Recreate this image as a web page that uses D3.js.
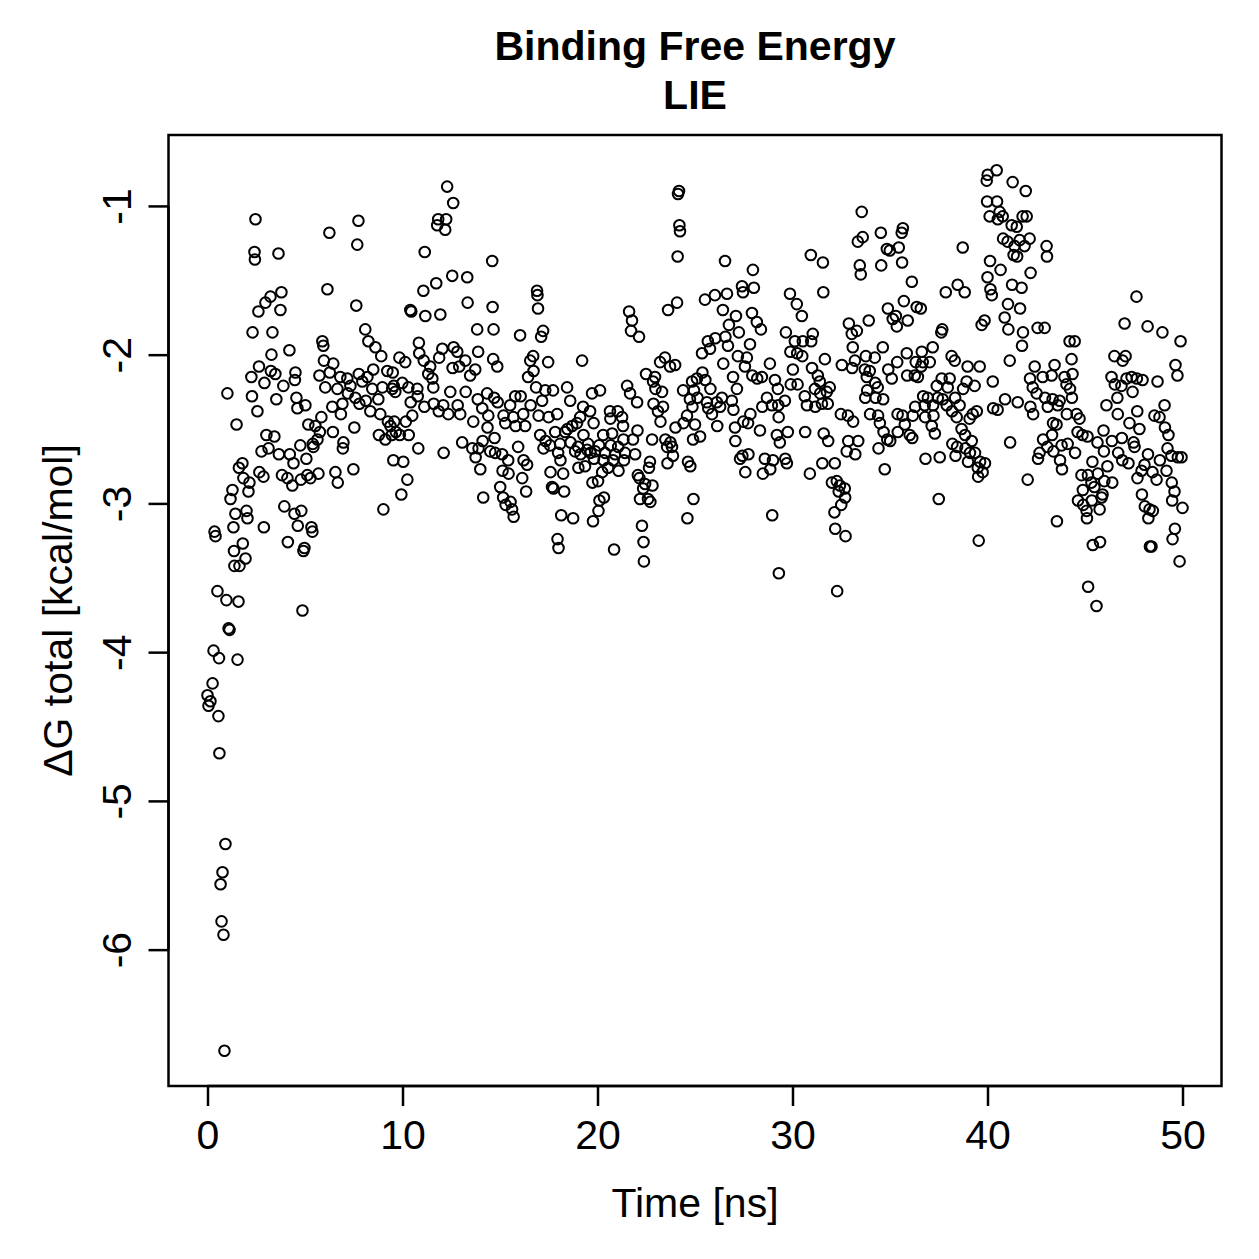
<!DOCTYPE html>
<html>
<head>
<meta charset="utf-8">
<script src="https://cdn.jsdelivr.net/npm/d3@7"></script>
<style>
  body { margin: 0; background: #fff; }
  text { font-family: "Liberation Sans", Arial, Helvetica, sans-serif; fill: #000; }
</style>
</head>
<body>
<div id="chart"></div>
<script>
"use strict";

const titleLines = ['Binding Free Energy', 'LIE'];
const xLabel = 'Time [ns]';
const yLabel = 'ΔG total [kcal/mol]';
const xTicks = [0, 10, 20, 30, 40, 50];
const yTicks = [-6, -5, -4, -3, -2, -1];

// [time (ns), dG total (kcal/mol)]
const dgSeries = [
  [0.00,-4.29],[0.05,-4.36],[0.15,-4.33],[0.26,-4.21],[0.31,-3.99],[0.36,-3.19],[0.41,-3.22],[0.51,-3.59],[0.56,-4.43],[0.59,-4.04],
  [0.61,-4.68],[0.67,-5.56],[0.72,-5.81],[0.77,-5.48],[0.82,-5.90],[0.87,-6.68],[0.92,-5.29],[0.97,-3.65],[1.02,-2.26],[1.08,-3.84],
  [1.13,-3.85],[1.18,-2.97],[1.28,-2.91],[1.33,-3.16],[1.36,-3.32],[1.38,-3.42],[1.43,-3.07],[1.49,-2.47],[1.54,-4.05],[1.59,-3.66],
  [1.61,-2.76],[1.64,-3.42],[1.79,-2.73],[1.81,-3.27],[1.84,-2.83],[1.95,-3.37],[2.00,-3.05],[2.05,-3.10],[2.10,-2.92],[2.15,-2.86],
  [2.25,-2.15],[2.28,-2.28],[2.31,-1.85],[2.41,-1.31],[2.43,-1.36],[2.46,-1.09],[2.56,-2.38],[2.61,-1.71],[2.64,-2.08],[2.66,-2.79],
  [2.77,-2.65],[2.87,-2.82],[2.89,-3.16],[2.92,-2.19],[2.97,-1.65],[3.02,-2.54],[3.13,-2.63],[3.23,-1.61],[3.25,-2.11],[3.28,-2.00],
  [3.33,-1.85],[3.43,-2.55],[3.48,-2.13],[3.53,-2.30],[3.64,-1.32],[3.66,-2.67],[3.74,-1.70],[3.79,-1.58],[3.82,-2.81],[3.89,-2.21],
  [3.94,-3.02],[4.10,-2.83],[4.12,-3.26],[4.20,-1.97],[4.22,-2.67],[4.35,-2.88],[4.41,-2.73],[4.46,-3.07],[4.48,-2.17],[4.51,-2.12],
  [4.56,-2.29],[4.61,-2.36],[4.63,-3.15],[4.76,-2.61],[4.79,-2.84],[4.81,-3.05],[4.87,-3.72],[4.92,-3.32],[4.97,-3.30],[5.02,-2.34],
  [5.07,-2.70],[5.12,-2.81],[5.17,-2.47],[5.28,-2.83],[5.33,-3.16],[5.38,-3.19],[5.40,-2.60],[5.43,-2.62],[5.53,-2.48],[5.64,-2.57],
  [5.69,-2.80],[5.74,-2.14],[5.76,-2.52],[5.84,-2.42],[5.89,-1.91],[5.94,-1.94],[5.97,-2.04],[6.04,-2.22],[6.15,-1.56],[6.25,-1.18],
  [6.27,-2.12],[6.40,-2.35],[6.43,-2.52],[6.45,-2.06],[6.56,-2.79],[6.66,-2.23],[6.68,-2.86],[6.81,-2.15],[6.84,-2.40],[6.92,-2.33],
  [6.94,-2.63],[6.97,-2.59],[7.17,-2.16],[7.20,-2.26],[7.33,-2.21],[7.48,-2.77],[7.53,-2.49],[7.58,-2.29],[7.63,-1.67],[7.68,-1.26],
  [7.74,-1.10],[7.76,-2.13],[7.79,-2.33],[7.94,-2.18],[8.09,-1.83],[8.12,-2.31],[8.20,-2.15],[8.25,-1.91],[8.35,-2.38],[8.45,-2.23],
  [8.50,-2.10],[8.61,-1.95],[8.76,-2.30],[8.79,-2.54],[8.86,-2.40],[8.91,-2.01],[8.97,-2.22],[9.02,-3.04],[9.12,-2.57],[9.22,-2.11],
  [9.25,-2.45],[9.38,-2.48],[9.45,-2.54],[9.48,-2.23],[9.50,-2.12],[9.53,-2.71],[9.55,-2.21],[9.58,-2.45],[9.63,-2.25],[9.66,-2.52],
  [9.84,-2.02],[9.86,-2.54],[9.94,-2.94],[9.99,-2.19],[10.04,-2.72],[10.14,-2.05],[10.17,-2.45],[10.25,-2.84],[10.30,-2.22],[10.32,-2.54],
  [10.40,-1.70],[10.42,-2.32],[10.45,-1.71],[10.50,-2.41],[10.76,-2.23],[10.78,-2.28],[10.81,-2.63],[10.84,-1.92],[10.86,-1.99],[11.07,-1.57],
  [11.09,-2.04],[11.12,-2.35],[11.14,-1.31],[11.17,-1.74],[11.32,-2.13],[11.42,-2.08],[11.53,-2.16],[11.58,-2.22],[11.60,-2.33],[11.73,-1.52],
  [11.78,-1.13],[11.83,-1.09],[11.86,-2.38],[11.88,-2.02],[11.94,-1.73],[12.04,-1.96],[12.09,-2.34],[12.11,-2.66],[12.19,-1.16],[12.24,-1.09],
  [12.29,-0.87],[12.35,-2.40],[12.45,-2.25],[12.55,-1.47],[12.57,-2.09],[12.60,-0.98],[12.62,-1.95],[12.81,-1.98],[12.83,-2.34],[12.91,-2.08],
  [12.96,-2.40],[13.06,-2.59],[13.22,-2.04],[13.24,-2.25],[13.32,-1.48],[13.34,-1.65],[13.47,-2.14],[13.58,-2.63],[13.63,-2.45],[13.73,-2.10],
  [13.75,-2.69],[13.83,-1.83],[13.86,-2.30],[13.88,-1.98],[13.90,-2.63],[13.99,-2.77],[14.09,-2.36],[14.11,-2.58],[14.14,-2.96],[14.34,-2.26],
  [14.36,-2.49],[14.40,-2.41],[14.50,-2.65],[14.60,-1.37],[14.62,-1.68],[14.65,-2.03],[14.67,-1.83],[14.70,-2.29],[14.72,-2.56],[14.75,-2.66],
  [14.86,-2.08],[14.88,-2.32],[15.01,-2.89],[15.11,-2.67],[15.13,-2.78],[15.16,-2.96],[15.18,-2.41],[15.27,-2.46],[15.29,-3.01],[15.42,-2.71],
  [15.44,-2.80],[15.52,-2.34],[15.54,-2.99],[15.62,-3.04],[15.68,-2.42],[15.70,-3.09],[15.78,-2.28],[15.80,-2.48],[15.93,-2.62],[16.03,-1.87],
  [16.06,-2.28],[16.14,-2.83],[16.19,-2.40],[16.21,-2.71],[16.29,-2.48],[16.34,-2.92],[16.39,-2.74],[16.44,-2.15],[16.55,-2.04],[16.57,-2.34],
  [16.70,-2.01],[16.72,-2.11],[16.85,-2.22],[16.90,-1.57],[16.92,-1.60],[16.95,-1.69],[16.98,-2.41],[17.06,-2.54],[17.11,-1.88],[17.16,-2.31],
  [17.21,-1.84],[17.23,-2.63],[17.32,-2.24],[17.34,-2.58],[17.47,-2.05],[17.49,-2.42],[17.57,-2.61],[17.59,-2.79],[17.67,-2.89],[17.72,-2.24],
  [17.74,-2.90],[17.83,-2.52],[17.93,-2.40],[17.95,-3.24],[17.98,-2.66],[18.00,-3.30],[18.08,-2.60],[18.10,-2.71],[18.14,-3.08],[18.24,-2.80],
  [18.29,-2.92],[18.34,-2.52],[18.44,-2.22],[18.46,-2.50],[18.60,-2.31],[18.62,-2.59],[18.70,-2.48],[18.75,-3.10],[18.85,-2.65],[18.95,-2.46],
  [19.00,-2.62],[19.02,-2.76],[19.11,-2.42],[19.13,-2.67],[19.21,-2.04],[19.26,-2.35],[19.28,-2.54],[19.36,-2.75],[19.47,-2.64],[19.52,-2.60],
  [19.62,-2.38],[19.64,-2.66],[19.72,-2.26],[19.74,-2.86],[19.77,-3.12],[19.80,-2.46],[19.82,-2.70],[19.88,-2.65],[20.03,-2.85],[20.05,-3.05],
  [20.08,-2.61],[20.10,-2.98],[20.13,-2.24],[20.24,-2.79],[20.29,-2.54],[20.31,-2.71],[20.33,-2.96],[20.39,-2.66],[20.54,-2.76],[20.64,-2.38],
  [20.66,-2.43],[20.68,-2.61],[20.75,-2.53],[20.80,-2.71],[20.85,-3.31],[20.90,-2.67],[21.04,-2.38],[21.06,-2.62],[21.08,-2.78],[21.26,-2.42],
  [21.31,-2.48],[21.33,-2.57],[21.36,-2.71],[21.41,-2.66],[21.52,-2.21],[21.62,-1.71],[21.67,-2.26],[21.72,-1.84],[21.77,-1.77],[21.82,-2.57],
  [21.93,-2.67],[22.03,-2.32],[22.05,-2.51],[22.07,-2.81],[22.13,-1.88],[22.15,-2.83],[22.18,-2.97],[22.28,-3.15],[22.34,-2.90],[22.36,-3.26],
  [22.38,-3.39],[22.44,-2.87],[22.49,-2.13],[22.59,-2.97],[22.64,-2.76],[22.69,-2.72],[22.71,-2.99],[22.80,-2.57],[22.82,-2.88],[22.85,-2.18],
  [22.87,-2.33],[22.95,-2.15],[22.97,-2.23],[23.10,-2.38],[23.21,-2.05],[23.23,-2.45],[23.31,-2.25],[23.36,-2.35],[23.46,-2.02],[23.48,-2.57],
  [23.57,-2.62],[23.59,-2.73],[23.62,-1.70],[23.72,-2.08],[23.74,-2.59],[23.82,-2.62],[23.87,-2.68],[23.98,-2.07],[24.00,-2.49],[24.08,-1.65],
  [24.11,-1.34],[24.13,-0.92],[24.18,-0.90],[24.20,-1.13],[24.23,-1.17],[24.39,-2.24],[24.41,-2.46],[24.59,-2.41],[24.61,-3.10],[24.64,-2.72],
  [24.74,-2.30],[24.76,-2.75],[24.85,-2.18],[24.87,-2.35],[24.90,-2.57],[24.92,-2.97],[24.95,-2.24],[25.00,-2.47],[25.10,-2.16],[25.13,-2.29],
  [25.26,-2.55],[25.36,-1.99],[25.38,-2.12],[25.51,-1.63],[25.53,-2.17],[25.61,-2.32],[25.66,-1.91],[25.68,-2.36],[25.77,-1.96],[25.79,-2.23],
  [25.87,-2.40],[26.02,-1.60],[26.04,-1.89],[26.12,-2.32],[26.14,-2.48],[26.29,-2.35],[26.38,-2.29],[26.43,-1.70],[26.45,-2.06],[26.54,-1.37],
  [26.56,-1.88],[26.64,-1.59],[26.69,-1.94],[26.74,-1.80],[26.89,-2.31],[26.95,-2.15],[26.97,-2.37],[27.05,-2.49],[27.07,-2.58],[27.10,-1.74],
  [27.15,-2.23],[27.20,-2.01],[27.25,-1.85],[27.31,-2.70],[27.41,-1.54],[27.43,-2.68],[27.46,-1.58],[27.48,-2.45],[27.56,-2.08],[27.58,-2.79],
  [27.66,-2.02],[27.72,-2.46],[27.74,-2.67],[27.82,-1.93],[27.84,-2.40],[27.92,-1.72],[27.94,-2.14],[27.97,-1.43],[28.02,-1.55],[28.17,-1.78],
  [28.19,-2.16],[28.33,-2.51],[28.38,-1.83],[28.43,-2.15],[28.45,-2.35],[28.48,-2.80],[28.58,-2.70],[28.69,-2.29],[28.84,-2.06],[28.86,-2.77],
  [28.94,-2.34],[28.96,-3.08],[29.00,-2.71],[29.10,-2.17],[29.20,-2.54],[29.25,-2.23],[29.27,-2.34],[29.29,-2.42],[29.30,-3.47],[29.35,-2.59],
  [29.61,-2.31],[29.63,-2.70],[29.66,-1.85],[29.71,-2.73],[29.76,-2.52],[29.87,-1.59],[29.89,-1.98],[29.91,-2.20],[30.02,-2.10],[30.12,-1.91],
  [30.22,-1.66],[30.24,-1.99],[30.26,-2.20],[30.48,-1.74],[30.50,-2.01],[30.53,-1.91],[30.63,-2.28],[30.65,-2.52],[30.74,-2.34],[30.89,-2.80],
  [30.94,-1.33],[30.96,-1.91],[31.00,-2.09],[31.04,-1.86],[31.15,-2.23],[31.17,-2.35],[31.30,-2.14],[31.40,-2.18],[31.42,-2.26],[31.51,-2.33],
  [31.53,-2.73],[31.56,-1.38],[31.58,-1.58],[31.60,-2.53],[31.66,-2.03],[31.76,-2.25],[31.81,-2.33],[31.83,-2.58],[31.91,-2.22],[32.02,-2.86],
  [32.15,-3.06],[32.17,-2.73],[32.19,-3.17],[32.27,-2.85],[32.29,-3.59],[32.37,-2.92],[32.43,-2.88],[32.48,-2.40],[32.50,-3.01],[32.53,-2.07],
  [32.68,-2.90],[32.70,-2.96],[32.72,-3.22],[32.78,-2.65],[32.84,-2.41],[32.86,-2.58],[32.89,-1.79],[33.04,-1.86],[33.06,-2.09],[33.09,-1.95],
  [33.11,-2.45],[33.20,-2.04],[33.22,-2.67],[33.30,-1.84],[33.35,-1.24],[33.37,-2.58],[33.45,-1.40],[33.50,-1.46],[33.55,-1.04],[33.60,-1.21],
  [33.71,-2.10],[33.73,-2.29],[33.76,-2.01],[33.81,-2.15],[33.83,-2.24],[33.91,-1.77],[33.96,-2.11],[33.98,-2.40],[34.22,-2.02],[34.24,-2.19],
  [34.26,-2.29],[34.37,-2.22],[34.39,-2.41],[34.41,-2.63],[34.48,-2.46],[34.53,-1.18],[34.55,-1.40],[34.63,-1.95],[34.65,-2.30],[34.67,-2.52],
  [34.73,-2.77],[34.84,-1.29],[34.86,-2.57],[34.89,-1.69],[34.91,-2.10],[34.99,-1.30],[35.01,-2.58],[35.09,-2.16],[35.14,-1.76],[35.30,-1.74],
  [35.35,-1.81],[35.37,-2.05],[35.39,-2.40],[35.40,-2.52],[35.45,-1.28],[35.60,-1.18],[35.62,-1.38],[35.64,-2.41],[35.66,-1.15],[35.71,-1.64],
  [35.76,-2.47],[35.86,-1.99],[35.88,-2.14],[35.91,-1.77],[36.01,-2.54],[36.12,-1.51],[36.14,-2.56],[36.17,-2.41],[36.27,-2.14],[36.29,-2.35],
  [36.32,-2.05],[36.37,-1.68],[36.43,-2.15],[36.58,-1.69],[36.60,-2.08],[36.63,-1.98],[36.68,-2.05],[36.70,-2.28],[36.78,-2.34],[36.80,-2.42],
  [36.82,-2.70],[36.94,-2.29],[37.04,-2.05],[37.14,-2.48],[37.19,-1.95],[37.21,-2.34],[37.23,-2.41],[37.30,-2.53],[37.40,-2.21],[37.45,-2.29],
  [37.50,-2.97],[37.55,-2.69],[37.63,-1.85],[37.65,-2.16],[37.68,-1.83],[37.70,-2.30],[37.86,-1.58],[37.91,-2.34],[37.96,-2.22],[38.06,-2.16],
  [38.16,-2.01],[38.18,-2.38],[38.20,-2.60],[38.32,-2.04],[38.34,-2.29],[38.36,-2.68],[38.42,-2.42],[38.44,-2.62],[38.47,-1.53],[38.57,-2.34],
  [38.67,-2.50],[38.73,-1.28],[38.75,-2.23],[38.83,-1.58],[38.85,-2.54],[38.87,-2.63],[38.93,-2.18],[38.98,-2.08],[39.00,-2.72],[39.08,-2.43],
  [39.10,-2.66],[39.19,-2.58],[39.24,-2.40],[39.34,-2.21],[39.36,-2.66],[39.45,-2.38],[39.50,-2.76],[39.52,-2.82],[39.55,-3.25],[39.60,-2.08],
  [39.62,-2.72],[39.70,-1.80],[39.75,-2.79],[39.85,-1.77],[39.87,-2.73],[39.96,-0.83],[39.98,-0.97],[40.00,-1.48],[40.01,-0.79],[40.11,-1.07],
  [40.13,-1.37],[40.15,-1.56],[40.22,-1.60],[40.27,-2.18],[40.29,-2.36],[40.47,-0.76],[40.49,-0.97],[40.52,-2.37],[40.53,-1.09],[40.62,-1.04],
  [40.67,-1.43],[40.78,-1.07],[40.80,-1.22],[40.88,-1.75],[40.90,-2.30],[41.03,-1.24],[41.05,-1.66],[41.07,-1.83],[41.14,-2.04],[41.16,-2.59],
  [41.24,-1.13],[41.26,-1.53],[41.29,-0.84],[41.34,-1.33],[41.39,-1.27],[41.50,-1.14],[41.52,-1.34],[41.55,-2.32],[41.65,-1.23],[41.67,-1.69],
  [41.75,-1.55],[41.77,-1.94],[41.80,-1.07],[41.82,-1.85],[41.90,-1.27],[41.96,-0.90],[42.01,-1.07],[42.06,-2.84],[42.16,-1.22],[42.18,-2.16],
  [42.20,-2.35],[42.21,-1.45],[42.32,-2.22],[42.34,-2.40],[42.42,-2.08],[42.52,-2.26],[42.57,-1.82],[42.59,-2.70],[42.67,-2.66],[42.83,-2.15],
  [42.85,-2.57],[42.93,-1.82],[42.95,-2.29],[43.03,-1.27],[43.05,-1.34],[43.07,-2.62],[43.09,-2.35],[43.29,-2.14],[43.31,-2.54],[43.34,-2.30],
  [43.36,-2.46],[43.38,-2.65],[43.44,-2.07],[43.54,-2.47],[43.56,-3.12],[43.60,-2.34],[43.70,-2.31],[43.72,-2.71],[43.80,-2.61],[43.82,-2.77],
  [43.95,-2.15],[44.05,-2.20],[44.07,-2.40],[44.11,-2.60],[44.21,-1.91],[44.23,-2.23],[44.31,-2.03],[44.33,-2.29],[44.36,-2.13],[44.47,-1.91],
  [44.49,-2.66],[44.57,-2.40],[44.62,-2.52],[44.64,-2.98],[44.72,-2.43],[44.82,-2.81],[44.87,-2.54],[44.89,-2.91],[44.91,-3.01],[45.08,-3.05],
  [45.10,-3.10],[45.13,-2.55],[45.15,-2.81],[45.16,-3.56],[45.33,-2.86],[45.35,-2.98],[45.38,-2.72],[45.40,-3.28],[45.48,-2.89],[45.59,-3.69],
  [45.64,-2.59],[45.66,-2.80],[45.75,-3.04],[45.77,-3.26],[45.85,-2.96],[45.90,-2.94],[45.95,-2.51],[45.97,-2.65],[45.99,-2.85],[46.10,-2.34],
  [46.15,-2.75],[46.36,-2.15],[46.38,-2.58],[46.40,-2.86],[46.51,-2.01],[46.53,-2.20],[46.66,-2.29],[46.68,-2.40],[46.70,-2.66],[46.87,-2.21],
  [46.89,-2.56],[46.91,-2.71],[46.93,-2.04],[47.03,-1.79],[47.08,-2.01],[47.13,-2.16],[47.23,-2.73],[47.28,-2.46],[47.39,-2.15],[47.44,-2.25],
  [47.49,-2.59],[47.54,-2.62],[47.64,-1.61],[47.66,-2.16],[47.68,-2.38],[47.69,-2.83],[47.79,-2.50],[47.90,-2.78],[47.92,-2.94],[47.95,-2.17],
  [48.05,-2.74],[48.07,-3.02],[48.21,-1.81],[48.23,-2.67],[48.25,-3.10],[48.31,-3.04],[48.33,-3.29],[48.41,-3.29],[48.46,-2.79],[48.48,-3.05],
  [48.56,-2.41],[48.67,-2.84],[48.72,-2.18],[48.82,-2.42],[48.84,-2.71],[48.97,-1.85],[49.08,-2.34],[49.10,-2.49],[49.18,-2.78],[49.23,-2.63],
  [49.28,-2.54],[49.43,-2.68],[49.45,-2.86],[49.47,-2.98],[49.49,-3.24],[49.59,-2.92],[49.61,-3.17],[49.64,-2.07],[49.74,-2.14],[49.76,-2.69],
  [49.85,-3.39],[49.90,-1.91],[49.95,-2.69],[50.00,-3.03]
];

const W = 1259, H = 1259;
const FONT = 41;
const box = { left: 168.5, right: 1221.5, top: 135, bottom: 1086 };

// R-style axis ranges: data range padded by 4% on each side
function padded(extent) {
  const pad = (extent[1] - extent[0]) * 0.04;
  return [extent[0] - pad, extent[1] + pad];
}

// R prints negative tick labels with a plain hyphen
const plainFormat = d => String(d);

const x = d3.scaleLinear()
  .domain(padded(d3.extent(dgSeries, d => d[0])))
  .range([box.left, box.right]);

const y = d3.scaleLinear()
  .domain(padded(d3.extent(dgSeries, d => d[1])))
  .range([box.bottom, box.top]);

const svg = d3.select('#chart').append('svg')
  .attr('width', W)
  .attr('height', H)
  .attr('viewBox', `0 0 ${W} ${H}`);

svg.append('rect')
  .attr('width', W).attr('height', H)
  .attr('fill', '#fff');

/*
 * points
 ***/
svg.append('g')
  .selectAll('circle')
  .data(dgSeries)
  .join('circle')
    .attr('cx', d => x(d[0]))
    .attr('cy', d => y(d[1]))
    .attr('r', 5.3)
    .attr('fill', 'none')
    .attr('stroke', '#000')
    .attr('stroke-width', 2);

/*
 * axes
 ***/
const xAxis = d3.axisBottom(x)
  .tickValues(xTicks)
  .tickSize(20)
  .tickPadding(10)
  .tickFormat(plainFormat);

const xAxisG = svg.append('g')
  .attr('transform', `translate(0,${box.bottom})`)
  .call(xAxis);

xAxisG.select('.domain')
  .attr('d', `M${x(xTicks[0])},0H${x(xTicks[xTicks.length - 1])}`)
  .attr('stroke-width', 2.5);

xAxisG.selectAll('.tick line').attr('stroke-width', 2.5);
xAxisG.selectAll('.tick text')
  .attr('font-size', FONT)
  .attr('font-family', '"Liberation Sans", Arial, sans-serif')
  .attr('dy', null)
  .attr('y', 63);

const yAxis = d3.axisLeft(y)
  .tickValues(yTicks)
  .tickSize(20)
  .tickFormat(plainFormat);

const yAxisG = svg.append('g')
  .attr('transform', `translate(${box.left},0)`)
  .call(yAxis);

yAxisG.select('.domain')
  .attr('d', `M0,${y(yTicks[0])}V${y(yTicks[yTicks.length - 1])}`)
  .attr('stroke-width', 2.5);

yAxisG.selectAll('.tick line').attr('stroke-width', 2.5);
yAxisG.selectAll('.tick text')
  .attr('font-size', FONT)
  .attr('font-family', '"Liberation Sans", Arial, sans-serif')
  .attr('x', null)
  .attr('dy', null)
  .attr('text-anchor', 'middle')
  .attr('transform', 'translate(-38,0) rotate(-90)');

// plot frame
svg.append('rect')
  .attr('x', box.left)
  .attr('y', box.top)
  .attr('width', box.right - box.left)
  .attr('height', box.bottom - box.top)
  .attr('fill', 'none')
  .attr('stroke', '#000')
  .attr('stroke-width', 2.5);

/*
 * titles
 ***/
const midX = (box.left + box.right) / 2;
const midY = (box.top + box.bottom) / 2;

svg.append('g')
  .selectAll('text')
  .data(titleLines)
  .join('text')
    .attr('x', midX)
    .attr('y', (d, i) => 60 + i * 49)
    .attr('text-anchor', 'middle')
    .attr('font-size', FONT)
    .attr('font-weight', 'bold')
    .text(d => d);

svg.append('text')
  .attr('x', midX)
  .attr('y', 1217)
  .attr('text-anchor', 'middle')
  .attr('font-size', FONT)
  .text(xLabel);

svg.append('text')
  .attr('transform', `translate(72,${midY}) rotate(-90)`)
  .attr('text-anchor', 'middle')
  .attr('font-size', FONT)
  .text(yLabel);
</script>
</body>
</html>
